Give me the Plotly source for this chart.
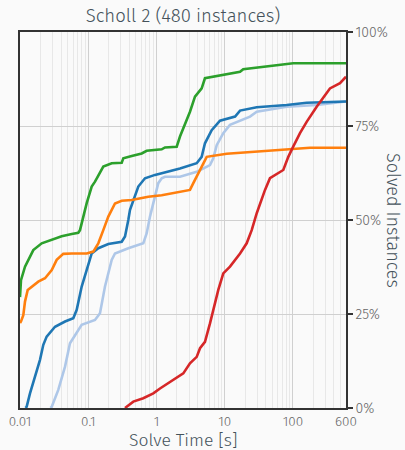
import numpy as np
import plotly.graph_objects as go

# ---- data (solve time [s], solved instances [%]) ----
green_t = [0.01, 0.01034, 0.01184, 0.01324, 0.01567, 0.0208, 0.0292, 0.0408, 0.0573, 0.0715, 0.0757,
           0.0847, 0.0950, 0.1124, 0.1257, 0.1663, 0.2208, 0.3095, 0.3266, 0.4336, 0.6077, 0.7194,
           1.193, 1.334, 1.980, 2.213, 2.62, 3.10, 3.67, 4.60, 5.14, 6.81, 10.7, 16.8, 18.7, 32.9,
           72.3, 101, 600]
green_p = [29.5, 34.0, 37.6, 39.4, 42.0, 43.8, 44.7, 45.7, 46.3, 46.6, 47.3,
           50.9, 54.5, 58.9, 60.2, 64.2, 65.1, 65.2, 66.4, 67.0, 67.7, 68.4,
           68.8, 69.3, 69.5, 72.2, 75.3, 78.8, 82.8, 85.0, 87.7, 88.1, 88.7, 89.4, 90.1, 90.6,
           91.4, 91.7, 91.7]

orange_t = [0.01, 0.01034, 0.01118, 0.01184, 0.01297, 0.01484, 0.01854, 0.02325, 0.0292, 0.0345,
            0.0431, 0.0573, 0.0950, 0.1187, 0.1405, 0.1663, 0.197, 0.2467, 0.3095, 0.4336, 0.6077,
            0.759, 1.193, 3.10, 3.47, 4.35, 5.45, 10.7, 32.9, 101, 178, 600]
orange_p = [22.6, 23.0, 24.7, 28.3, 31.4, 32.3, 33.6, 34.5, 36.7, 39.4,
            41.0, 41.1, 41.1, 41.6, 43.8, 47.3, 50.9, 54.4, 55.1, 55.3, 55.8,
            56.2, 56.6, 58.0, 59.8, 63.3, 66.8, 67.6, 68.2, 68.9, 69.2, 69.2]

blue_t = [0.01204, 0.01254, 0.01401, 0.0166, 0.01963, 0.02196, 0.0246, 0.0326, 0.0457, 0.0604,
          0.0678, 0.0802, 0.0950, 0.1124, 0.1405, 0.197, 0.3095, 0.346, 0.3867, 0.4096, 0.542,
          0.679, 0.952, 1.334, 2.213, 3.89, 4.60, 5.14, 6.45, 8.54, 14.2, 16.8, 29.5, 81.1, 159, 600]
blue_p = [0.0, 0.35, 3.9, 8.3, 12.8, 16.8, 19.0, 21.6, 23.0, 23.9,
          26.1, 32.3, 36.7, 41.1, 42.5, 43.6, 44.2, 45.6, 50.0, 52.7, 58.9,
          61.1, 62.0, 62.6, 63.7, 65.1, 66.8, 70.4, 73.9, 76.4, 77.5, 79.1, 80.0, 80.6, 81.2, 81.5]

lightblue_t = [0.028, 0.0292, 0.0364, 0.0457, 0.054, 0.064, 0.0802, 0.1257, 0.1487, 0.176, 0.2208,
               0.2467, 0.3867, 0.641, 0.7194, 0.804, 0.952, 1.064, 1.193, 1.334, 2.213, 3.89, 6.09,
               6.81, 7.64, 9.54, 11.96, 23.5, 29.5, 81.1, 223, 600]
lightblue_p = [0.0, 0.35, 4.8, 11.0, 17.2, 19.4, 22.1, 23.4, 25.2, 32.3, 39.4,
               41.1, 42.5, 43.8, 46.5, 50.9, 56.2, 59.8, 61.1, 61.5, 61.5, 62.8, 64.6,
               66.4, 69.9, 73.1, 75.3, 77.5, 78.8, 80.1, 80.6, 81.5]

red_t = [0.346, 0.4576, 0.641, 0.899, 1.127, 1.579, 2.474, 3.10, 3.89, 4.35, 5.14, 6.09, 7.21, 8.06,
         9.54, 11.96, 16.8, 21.0, 24.9, 29.5, 39.0, 46.1, 72.3, 85.6, 101, 127, 159, 223, 349, 490, 600]
red_p = [0.0, 1.7, 2.6, 3.9, 5.2, 7.0, 9.2, 11.9, 13.6, 15.9, 17.6, 22.5, 27.8, 31.4,
         35.8, 37.6, 41.1, 43.8, 47.3, 51.8, 58.0, 61.1, 63.3, 66.8, 69.5, 73.1, 76.1, 80.1, 85.0, 86.4, 88.1]

x_tickvals = [0.01, 0.1, 1, 10, 100, 600]
x_ticktext = ["0.01", "0.1", "1", "10", "100", "600"]
y_tickvals = [0, 25, 50, 75, 100]
y_ticktext = ["0%", "25%", "50%", "75%", "100%"]

minor_vals = [m * 10.0 ** e for e in range(-2, 3) for m in range(2, 10) if m * 10.0 ** e < 600]

FONT = "Fira Sans, Open Sans, Noto Sans, sans-serif"
TXT = "#44525a"

series = [
    (lightblue_t, lightblue_p, "#aec7e8"),
    (blue_t, blue_p, "#1f77b4"),
    (orange_t, orange_p, "#ff7f0e"),
    (green_t, green_p, "#2ca02c"),
    (red_t, red_p, "#d62728"),
]

fig = go.Figure()
for t, p, c in series:
    fig.add_trace(go.Scatter(x=t, y=p, mode="lines", line=dict(color=c, width=2.6),
                             showlegend=False, hoverinfo="skip"))

fig.update_layout(
    width=405, height=450,
    margin=dict(l=20, r=59, t=32, b=42, autoexpand=False),
    paper_bgcolor="#fafafa", plot_bgcolor="#fafafa",
    font=dict(family=FONT, color="#555", size=13),
    title=dict(text="Scholl 2 (480 instances)", x=183 / 405, xanchor="center",
               y=1 - 16 / 450, yanchor="middle", automargin=False,
               font=dict(family=FONT, size=18.5, color=TXT, weight=300)),
    showlegend=False,
)
fig.update_xaxes(
    type="log", range=[-2, np.log10(600)], automargin=False,
    tickvals=x_tickvals, ticktext=x_ticktext,
    showgrid=True, gridcolor="#d0d0d0", gridwidth=1,
    minor=dict(tickvals=minor_vals, showgrid=True, gridcolor="#e8e8e8", gridwidth=1, ticks=""),
    showline=True, linecolor="#333", linewidth=1.5, mirror=True,
    ticks="", tickfont=dict(family=FONT, size=13.5, color="#666", weight=300),
    zeroline=False,
)
fig.update_yaxes(
    range=[0, 100], side="right", automargin=False,
    tickvals=y_tickvals, ticktext=y_ticktext,
    showgrid=True, gridcolor="#d0d0d0", gridwidth=1,
    showline=True, linecolor="#333", linewidth=1.5, mirror=True,
    ticks="outside", ticklen=5, tickcolor="#333", tickwidth=1.5,
    tickfont=dict(family=FONT, size=14, color="#666", weight=300),
    zeroline=False,
)
fig.add_annotation(text="Solve Time [s]", xref="paper", yref="paper",
                   x=0.5, y=0, yshift=-32, showarrow=False,
                   font=dict(family=FONT, size=17.5, color=TXT, weight=300),
                   xanchor="center", yanchor="middle")
fig.add_annotation(text="Solved Instances", textangle=90, xref="paper", yref="paper",
                   x=1, xshift=393 - 346, y=0.5, showarrow=False,
                   font=dict(family=FONT, size=18, color=TXT, weight=300),
                   xanchor="center", yanchor="middle")

fig.write_html("out.html", config={"displayModeBar": False},
               post_script="document.body.style.margin='0';document.body.style.background='#fafafa';")
